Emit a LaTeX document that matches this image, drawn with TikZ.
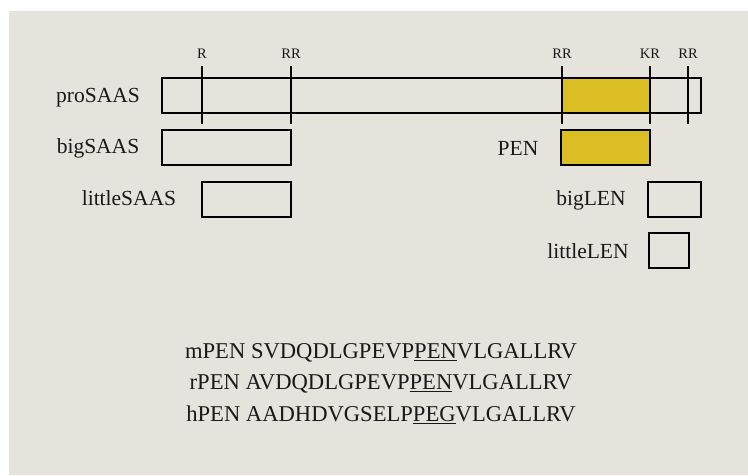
\documentclass[tikz,border=0pt]{standalone}
\usepackage{fontspec}
\setmainfont{Liberation Serif}
\definecolor{panel}{RGB}{230,227,221}
\definecolor{penyellow}{RGB}{219,189,36}
\newcommand{\ul}[1]{\underline{#1}}
\begin{document}
\begin{tikzpicture}[x=1pt,y=-1pt,
  lbl/.style={font=\fontsize{21.5}{25}\selectfont, text=black!90, inner sep=0pt},
  tlbl/.style={font=\fontsize{14.5}{17}\selectfont, text=black!90, inner sep=0pt},
  seq/.style={font=\fontsize{22.6}{26}\selectfont, text=black!90, inner sep=0pt},
  segbox/.style={draw=black, line width=2pt, rectangle, inner sep=0pt},
  tick/.style={draw=black, line width=2pt}
]
\useasboundingbox (0,0) rectangle (748,475);
\fill[white] (0,0) rectangle (748,475);
\fill[panel] (9,11) rectangle (748,475);

% proSAAS bar
\fill[penyellow] (562,78) rectangle (650,112);
\node[segbox, minimum width=539pt, minimum height=35pt] (pro) at (431.5,95) {};

% ticks
\foreach \n/\x/\t in {t1/202/R, t2/291/RR, t3/562/RR, t4/650/KR, t5/688/RR}{
  \coordinate (\n top) at (\x,66);
  \coordinate (\n bot) at (\x,124);
  \draw[tick] (\n top) -- (\n bot);
  \node[tlbl] (\n lab) at (\x,54) {\t};
}

% boxes
\node[segbox, minimum width=129pt, minimum height=35pt] (bigsaas) at (226.5,147.5) {};
\node[segbox, minimum width=89pt, minimum height=35pt] (littlesaas) at (246.5,199.5) {};
\node[segbox, fill=penyellow, minimum width=89pt, minimum height=35pt] (pen) at (605.5,147.5) {};
\node[segbox, minimum width=53pt, minimum height=35pt] (biglen) at (674.5,199.5) {};
\node[segbox, minimum width=40pt, minimum height=35pt] (littlelen) at (669,250) {};

% labels
\node[lbl] (lpro) at (98,98) {proSAAS};
\node[lbl] (lbigsaas) at (98,148) {bigSAAS};
\node[lbl] (llittlesaas) at (129,198) {littleSAAS};
\node[lbl] (lpen) at (518,148) {PEN};
\node[lbl] (lbiglen) at (591,200) {bigLEN};
\node[lbl] (llittlelen) at (588,251) {littleLEN};

% sequences
\node[seq] (m) at (381,353) {mPEN SVDQDLGPEVP\ul{PEN}VLGALLRV};
\node[seq] (r) at (381,384) {rPEN AVDQDLGPEVP\ul{PEN}VLGALLRV};
\node[seq] (h) at (381,415) {hPEN AADHDVGSELP\ul{PEG}VLGALLRV};
\end{tikzpicture}
\end{document}
